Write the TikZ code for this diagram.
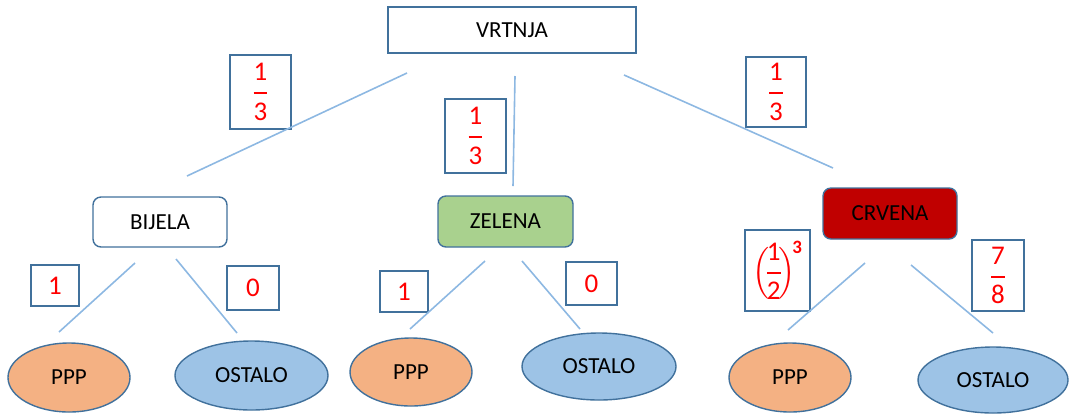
\documentclass[tikz,border=0pt]{standalone}
\usepackage{amsmath}
\usepackage{fontspec}
\setmainfont{Carlito}
\usetikzlibrary{shapes.geometric}
\definecolor{rub}{HTML}{41719C}
\definecolor{grancol}{HTML}{8DB8E2}
\definecolor{narancasta}{HTML}{F4B183}
\definecolor{plava}{HTML}{9DC3E6}
\definecolor{zelenacol}{HTML}{A9D18E}
\definecolor{crvenacol}{HTML}{C00000}
\newcommand{\razl}[2]{$\genfrac{}{}{1pt}{0}{\text{#1}}{\text{#2}}$}
\begin{document}
\begin{tikzpicture}[x=0.5pt,y=-0.5pt,
  kutija/.style={draw=rub,line width=0.7pt,inner sep=0pt,font=\fontsize{11.5}{13}\selectfont},
  boja/.style={kutija,rounded corners=4pt},
  vjer/.style={draw=rub,line width=0.7pt,inner sep=0pt,text=red,font=\fontsize{13.5}{15}\selectfont},
  elipsa/.style={ellipse,draw=rub,line width=0.7pt,inner sep=0pt,font=\fontsize{11.5}{13}\selectfont},
  grana/.style={draw=grancol,line width=0.8pt}]
\useasboundingbox (0,0) rectangle (1069,414);
% razine stabla
\node[kutija,minimum width=124pt,minimum height=23pt] (vrtnja) at (512,30) {VRTNJA};
\node[boja,fill=white,minimum width=67pt,minimum height=25pt] (bijela) at (160,222) {BIJELA};
\node[boja,fill=zelenacol,minimum width=67.5pt,minimum height=25.5pt] (zelena) at (505.5,221.5) {ZELENA};
\node[boja,fill=crvenacol,minimum width=67pt,minimum height=25.5pt] (crvena) at (890,213.5) {CRVENA};
\node[elipsa,fill=narancasta,minimum width=61pt,minimum height=34.5pt] (ppp1) at (69,377.5) {PPP};
\node[elipsa,fill=plava,minimum width=76.5pt,minimum height=34.5pt] (ost1) at (251.5,375.5) {OSTALO};
\node[elipsa,fill=narancasta,minimum width=61pt,minimum height=34pt] (ppp2) at (411,372) {PPP};
\node[elipsa,fill=plava,minimum width=77pt,minimum height=33.5pt] (ost2) at (599,366.5) {OSTALO};
\node[elipsa,fill=narancasta,minimum width=61pt,minimum height=34.5pt] (ppp3) at (790,377.5) {PPP};
\node[elipsa,fill=plava,minimum width=75pt,minimum height=33pt] (ost3) at (993,380) {OSTALO};
% vjerojatnosti
\node[vjer,minimum width=30.5pt,minimum height=37pt] (pb) at (260.5,92) {\razl{1}{3}};
\node[vjer,minimum width=30.5pt,minimum height=37pt] (pz) at (475.5,136) {\razl{1}{3}};
\node[vjer,minimum width=30pt,minimum height=35pt] (pc) at (776,92) {\razl{1}{3}};
\node[vjer,minimum width=24pt,minimum height=20.5pt] (pb1) at (55,285.5) {1};
\node[vjer,minimum width=26pt,minimum height=22pt] (pb2) at (253,288) {0};
\node[vjer,minimum width=24pt,minimum height=20.5pt] (pz1) at (404,291.5) {1};
\node[vjer,minimum width=25.5pt,minimum height=21.5pt] (pz2) at (591.5,283.5) {0};
\node[vjer,minimum width=32.5pt,minimum height=40.5pt] (pc1) at (777.5,270.5) {$\Bigl(\!\genfrac{}{}{1pt}{0}{\text{1}}{\text{2}}\!\Bigr)^{\!\text{\bfseries 3}}$};
\node[vjer,minimum width=26pt,minimum height=35.5pt] (pc2) at (998,275.5) {\razl{7}{8}};
% krajevi grana
\coordinate (v1) at (407,73);  \coordinate (b0) at (187,176);
\coordinate (v2) at (515,76);  \coordinate (z0) at (513,186);
\coordinate (v3) at (624,75);  \coordinate (c0) at (833,168);
\coordinate (b1) at (135,263); \coordinate (b1k) at (59,332);
\coordinate (b2) at (176,259); \coordinate (b2k) at (237,333);
\coordinate (z1) at (485,261); \coordinate (z1k) at (410,329);
\coordinate (z2) at (522,261); \coordinate (z2k) at (580,329);
\coordinate (c1) at (865,263); \coordinate (c1k) at (788,330);
\coordinate (c2) at (911,265); \coordinate (c2k) at (993,333);
\draw[grana] (v1) -- (b0);
\draw[grana] (v2) -- (z0);
\draw[grana] (v3) -- (c0);
\draw[grana] (b1) -- (b1k);
\draw[grana] (b2) -- (b2k);
\draw[grana] (z1) -- (z1k);
\draw[grana] (z2) -- (z2k);
\draw[grana] (c1) -- (c1k);
\draw[grana] (c2) -- (c2k);
\end{tikzpicture}
\end{document}
